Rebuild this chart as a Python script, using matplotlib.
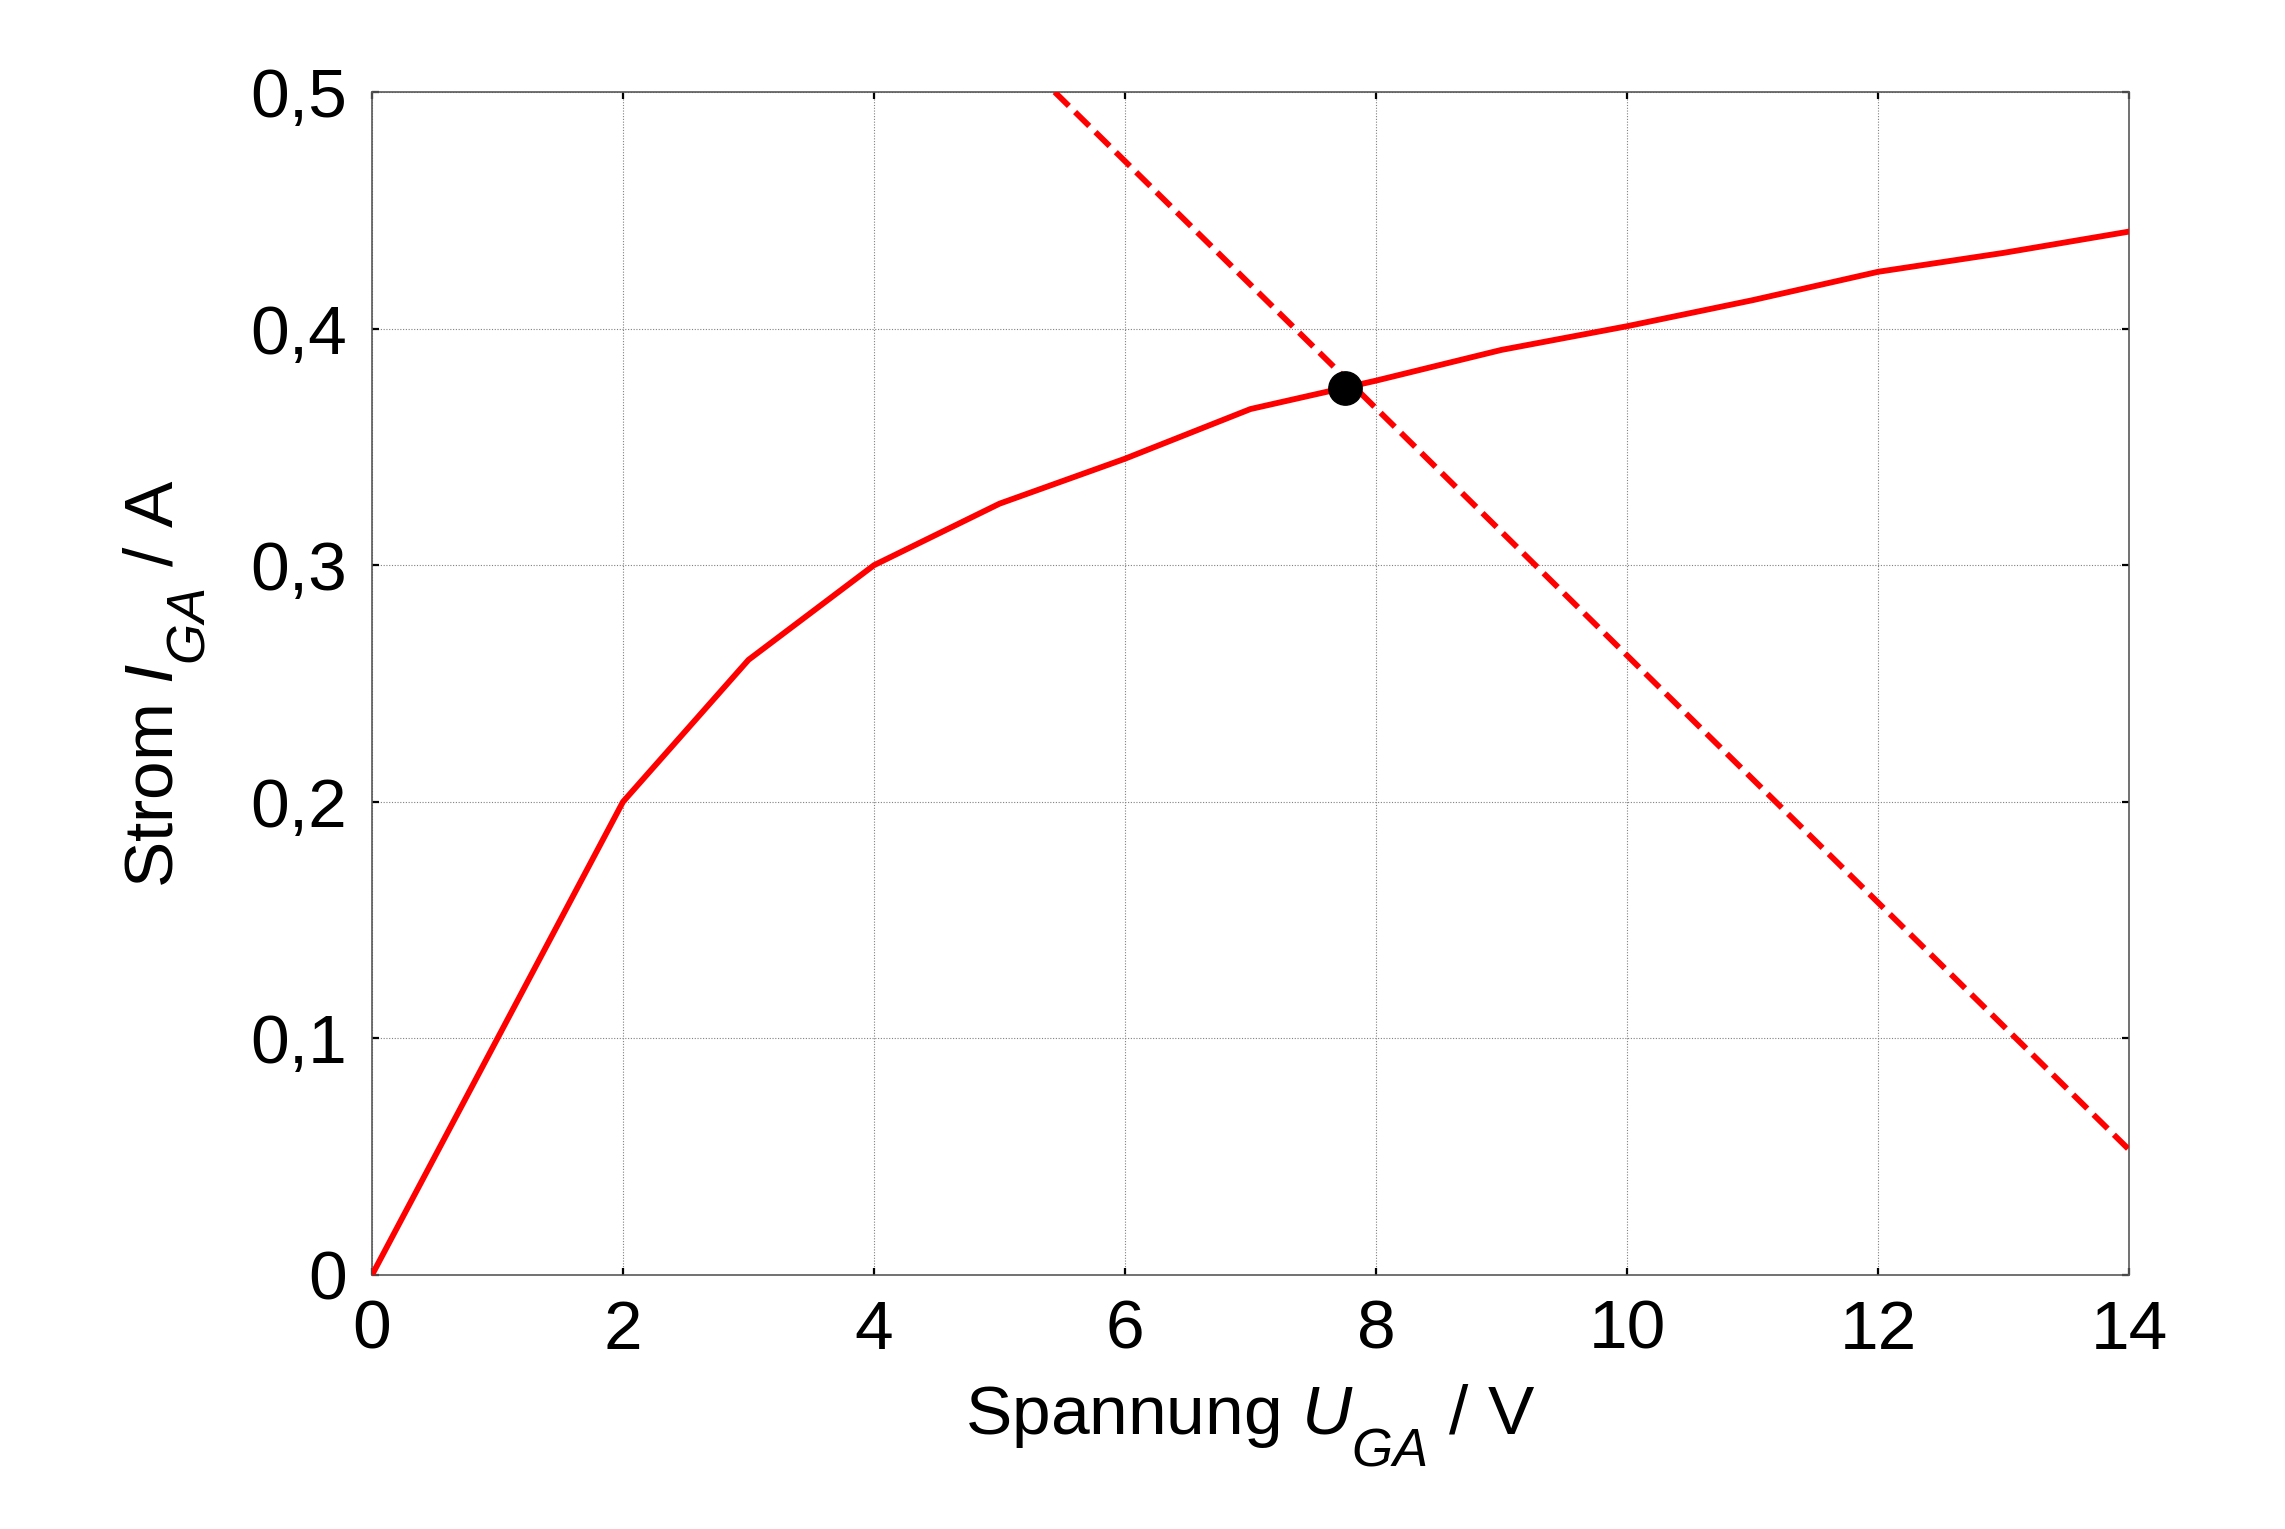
import matplotlib
matplotlib.use("Agg")
import matplotlib.pyplot as plt
from matplotlib.ticker import FuncFormatter

try:
    import matplotlib._mathtext as _mt
    _mt.FontConstantsBase.sub1 = 0.9
    _mt.FontConstantsBase.subdrop = 0.6
    _mt.SHRINK_FACTOR = 0.76
except Exception:
    pass

plt.rcParams['font.family'] = ['Liberation Sans', 'DejaVu Sans']
plt.rcParams['mathtext.fontset'] = 'custom'
plt.rcParams['mathtext.rm'] = 'Liberation Sans'
plt.rcParams['mathtext.it'] = 'Liberation Sans:italic'
plt.rcParams['mathtext.bf'] = 'Liberation Sans:bold'

# Kennlinie (solid)
u_kenn = [0, 1, 2, 3, 4, 5, 6, 7, 8, 9, 10, 11, 12, 13, 14]
i_kenn = [0, 0.1, 0.2, 0.26, 0.30, 0.326, 0.345, 0.366, 0.378, 0.391, 0.401, 0.412, 0.424, 0.432, 0.441]

# Arbeitsgerade (dashed)
u_last = [5.44, 14.0]
i_last = [0.5, 0.053]

# Arbeitspunkt
u_ap = [7.75]
i_ap = [0.375]

x_ticks = [0, 2, 4, 6, 8, 10, 12, 14]
y_ticks = [0, 0.1, 0.2, 0.3, 0.4, 0.5]

W, H = 2285, 1529
fig = plt.figure(figsize=(W / 100, H / 100), dpi=100)
ax = fig.add_axes([372 / W, 1 - 1275 / H, (2129 - 372) / W, (1275 - 92) / H])

ax.plot(u_kenn, i_kenn, color='#ff0000', lw=4.2, solid_joinstyle='round', zorder=3)
ax.plot(u_last, i_last, color='#ff0000', lw=4.2, linestyle=(0, (3.4, 1.5)), zorder=3)
ax.plot(u_ap, i_ap, 'o', color='black', markersize=24, zorder=4)

ax.set_xlim(0, 14)
ax.set_ylim(0, 0.5)
ax.set_xticks(x_ticks)
ax.set_yticks(y_ticks)

def fmt(v, pos):
    s = ('%g' % round(v, 3))
    return s.replace('.', ',')

ax.xaxis.set_major_formatter(FuncFormatter(fmt))
ax.yaxis.set_major_formatter(FuncFormatter(fmt))

ax.grid(True, color='0.5', linestyle=(0, (1, 1.5)), linewidth=0.8, zorder=0)
ax.set_axisbelow(True)

for sp in ax.spines.values():
    sp.set_color('0.35')
    sp.set_linewidth(1.2)

ax.tick_params(axis='both', which='major', direction='in', length=5, width=1.6,
               color='black', labelsize=50, top=True, right=True)
ax.tick_params(axis='y', pad=18)
ax.tick_params(axis='x', pad=17)

ax.set_xlabel(r'Spannung $\mathit{U}_{\mathit{GA}}$ / V', fontsize=50, labelpad=14)
ax.set_ylabel(r'Strom $\mathit{I}_{\mathit{GA}}$ / A', fontsize=50, labelpad=30)

fig.savefig('out.png', dpi=100, facecolor='white')
